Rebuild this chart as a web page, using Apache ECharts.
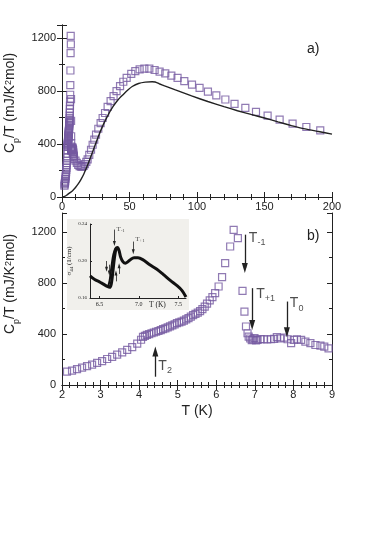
<!DOCTYPE html>
<html>
<head>
<meta charset="utf-8">
<script src="https://cdn.jsdelivr.net/npm/echarts@6/dist/echarts.min.js"></script>
<style>
  html, body { margin: 0; padding: 0; background: #fff; }
  #chart { width: 374px; height: 535px; }
</style>
</head>
<body>
<div id="chart"></div>
<script>
  // panel b) squares, 2 - 9 K (drawn again in panel a)
  const lowT = [2.13, 2.26, 2.39, 2.52, 2.65, 2.78, 2.91, 3.04, 3.17, 3.30, 3.43, 3.56, 3.69, 3.82, 3.95,
    4.05, 4.10, 4.15, 4.20, 4.26, 4.32, 4.38, 4.44, 4.50, 4.56, 4.62, 4.68, 4.74, 4.80, 4.86, 4.92, 4.98,
    5.04, 5.10, 5.16, 5.22, 5.28, 5.34, 5.40, 5.46, 5.52, 5.58, 5.64, 5.70,
    5.76, 5.83, 5.90, 5.97, 6.06, 6.15, 6.23, 6.36, 6.45, 6.56, 6.68, 6.73, 6.77, 6.81, 6.84,
    6.88, 6.92, 6.95, 6.99, 7.03, 7.07, 7.15, 7.23, 7.32, 7.42, 7.50, 7.57, 7.66, 7.76, 7.85, 7.94,
    8.01, 8.09, 8.20, 8.31, 8.44, 8.57, 8.70, 8.80, 8.91]
  const lowCp = [105, 113, 124, 136, 148, 160, 174, 188, 204, 220, 238, 256, 276, 298, 325,
    355, 378, 386, 393, 400, 406, 412, 418, 424, 431, 438, 445, 452, 460, 468, 476, 485,
    492, 498, 506, 515, 525, 537, 548, 558, 568, 580, 596, 615,
    638, 664, 690, 721, 773, 846, 956, 1087, 1218, 1153, 739, 576, 459, 406, 380,
    365, 352, 359, 368, 350, 354, 360, 359, 358, 359, 362, 375, 366, 372, 359, 328,
    354, 359, 354, 341, 328, 314, 309, 301, 288]

  // panel a) only: points outside 2 - 9 K
  const highT = [1.8, 1.95, 10, 11, 12, 13, 14, 15, 16, 17, 18, 19, 20.2, 21.5, 22.7, 23.9, 25.2, 26.9, 28.6,
    30.1, 31.9, 33.8, 36, 38.2, 40.4, 43, 45.4, 47.9, 51.3, 54.3, 57.5, 61, 64.7, 68.6, 72.3, 76.5,
    81, 85.6, 90.6, 96.3, 101.9, 108.1, 114.3, 121, 127.8, 135.8, 143.7, 152.3, 161.2, 170.8, 181, 191.3]
  const highCp = [85, 95, 275, 258, 243, 234, 229, 230, 236, 248, 265, 284, 319, 357, 395, 433, 471, 516, 559,
    597, 635, 681, 724, 762, 800, 838, 871, 901, 931, 952, 965, 970, 970, 960, 948, 934,
    918, 900, 876, 850, 825, 797, 768, 737, 704, 673, 643, 615, 585, 554, 529, 504]

  // panel a) solid curve
  const lineT = [0, 2, 4, 6, 8, 10, 12, 14, 16, 18, 20, 23, 27, 30.6, 34.3, 38, 41.7, 45.4, 49, 52, 56.7,
    61.7, 66.7, 69, 72, 76, 84, 96, 108, 120, 130, 140, 150, 160, 170, 180, 190, 200]
  const lineCp = [0, 4, 18, 33, 50, 72, 99, 132, 170, 218, 268, 350, 460, 547, 623, 686, 737, 775, 810, 835, 858,
    868, 871, 869, 856, 840, 809, 764, 722, 683, 652, 624, 597, 568, 540, 515, 495, 475]

  // inset: sigma44 (1/cm) against T (K)
  const insetT = [6.38, 6.44, 6.50, 6.55, 6.60, 6.63, 6.65, 6.67, 6.69, 6.71, 6.73, 6.75, 6.77, 6.80, 6.83,
    6.86, 6.90, 6.94, 6.99, 7.05, 7.14, 7.23, 7.31, 7.40, 7.49, 7.55, 7.60]
  const insetSigma = [0.184, 0.180, 0.1775, 0.175, 0.1725, 0.1715, 0.175, 0.188, 0.203, 0.213, 0.2145, 0.211,
    0.204, 0.199, 0.1975, 0.199, 0.202, 0.2035, 0.2035, 0.2015, 0.196, 0.191, 0.1855, 0.179, 0.173, 0.168, 0.161]
  const insetT2 = [6.61, 6.63, 6.65, 6.67, 6.69, 6.71]
  const insetSigma2 = [0.1725, 0.179, 0.192, 0.204, 0.211, 0.2145]

  // transition arrows in panel b)
  const arrowX = [6.74, 6.93, 7.83, 4.42]
  const arrowFrom = [1180, 760, 655, 65]
  const arrowTo = [918, 470, 415, 262]
  const arrowSub = ['-1', '+1', '0', '2']

  // arrows in the inset
  const insetArrowX = [6.69, 6.93, 6.59, 6.625, 6.71, 6.75]
  const insetArrowFrom = [0.234, 0.221, 0.200, 0.196, 0.178, 0.186]
  const insetArrowTo = [0.219, 0.210, 0.191, 0.187, 0.187, 0.195]
  const insetArrowSub = ['-1', '+1', '', '', '', '']

  const purple = '#7459a0'
  const ink = '#222'
  const sans = 'Liberation Sans, Arial, sans-serif'
  const serif = 'Liberation Serif, Times New Roman, serif'

  const zip = (xs, ys) => xs.map((x, i) => [x, ys[i]])

  const richName = {
    m: { fontSize: 14, lineHeight: 16, verticalAlign: 'top', fontFamily: sans, color: ink },
    sub: { fontSize: 9, lineHeight: 17, verticalAlign: 'bottom', fontFamily: sans, color: ink },
    sup: { fontSize: 9, lineHeight: 9, verticalAlign: 'top', fontFamily: sans, color: ink }
  }
  const yName = '{m|C}{sub|p}{m|/T (mJ/K}{sup|2}{m|mol)}'

  function xAx (grid, min, max, interval, minor, pos, labels) {
    return {
      gridIndex: grid, type: 'value', position: pos, min: min, max: max, interval: interval,
      axisLine: { lineStyle: { color: ink, width: 1 } },
      axisTick: { inside: true, length: 5, lineStyle: { color: ink } },
      minorTick: { show: true, splitNumber: minor, length: 3, lineStyle: { color: ink } },
      axisLabel: { show: labels, margin: 4, fontSize: 11, color: ink, fontFamily: sans, formatter: v => String(v) },
      splitLine: { show: false }
    }
  }
  function yAx (grid, max, pos, labels) {
    return {
      gridIndex: grid, type: 'value', position: pos, min: 0, max: max, interval: 400,
      axisLine: { lineStyle: { color: ink, width: 1 } },
      axisTick: { inside: true, length: 5, lineStyle: { color: ink } },
      minorTick: { show: true, splitNumber: 2, length: 3, lineStyle: { color: ink } },
      axisLabel: { show: labels, margin: 6, fontSize: 11, color: ink, fontFamily: sans, showMaxLabel: false,
        formatter: v => String(v) },
      splitLine: { show: false }
    }
  }

  const topY = yAx(0, 1300, 'left', true)
  topY.name = yName
  topY.nameLocation = 'middle'
  topY.nameGap = 32
  topY.nameTextStyle = { rich: richName, padding: [0, 0, 0, 16] }
  const botY = yAx(1, 1350, 'left', true)
  botY.name = yName
  botY.nameLocation = 'middle'
  botY.nameGap = 32
  botY.nameTextStyle = { rich: richName, padding: [0, 0, 0, 30] }
  const botX = xAx(1, 2, 9, 1, 5, 'bottom', true)
  botX.name = 'T (K)'
  botX.nameLocation = 'middle'
  botX.nameGap = 19
  botX.nameTextStyle = { fontSize: 14, color: ink, fontFamily: sans }

  const subRich = {
    t: { fontSize: 14, lineHeight: 14, verticalAlign: 'top', fontFamily: sans, color: ink },
    s: { fontSize: 9, lineHeight: 16, verticalAlign: 'bottom', fontFamily: sans, color: ink }
  }
  const insetRich = {
    t: { fontSize: 7, lineHeight: 7, verticalAlign: 'top', fontFamily: serif, color: ink },
    s: { fontSize: 5, lineHeight: 8, verticalAlign: 'bottom', fontFamily: serif, color: ink }
  }
  const labelOffsets = [[4, -4], [4, -1], [3, -5], [3, -18]]
  const insetLabelOffsets = [[2, -4], [2, -6], [0, 0], [0, 0], [0, 0], [0, 0]]

  function arrowLines (xs, from, to, head) {
    return xs.map((x, i) => [
      { coord: [x, from[i]], symbol: 'none' },
      { coord: [x, to[i]], symbol: 'triangle', symbolSize: head }
    ])
  }

  const insetY = {
    gridIndex: 2, type: 'value', min: 0.16, max: 0.24, interval: 0.04,
    name: '{a|σ}{b|44}{a| (1/cm)}', nameLocation: 'middle', nameGap: 15,
    nameTextStyle: {
      rich: {
        a: { fontSize: 7, lineHeight: 7, verticalAlign: 'top', fontFamily: serif, color: ink },
        b: { fontSize: 5, lineHeight: 9, verticalAlign: 'bottom', fontFamily: serif, color: ink }
      }
    },
    axisLine: { lineStyle: { color: ink, width: 1 } },
    axisTick: { inside: true, length: 2, lineStyle: { color: ink } },
    axisLabel: { margin: 3, fontSize: 5, color: ink, fontFamily: serif, formatter: v => v.toFixed(2) },
    splitLine: { show: false }
  }

  const option = {
    backgroundColor: '#fff',
    animation: false,
    grid: [
      { left: 62, top: 25, width: 270, height: 172, containLabel: false, outerBoundsMode: 'none' },
      { left: 62, top: 213, width: 270, height: 172, containLabel: false, outerBoundsMode: 'none' },
      { left: 90, top: 224, width: 96, height: 74, containLabel: false, outerBoundsMode: 'none' }
    ],
    graphic: [
      { type: 'rect', z: -1, silent: true, shape: { x: 67, y: 219, width: 122, height: 91 }, style: { fill: '#f1f0ec' } },
      { type: 'text', left: 307, top: 42, style: { text: 'a)', fontSize: 14, fill: ink, fontFamily: sans } },
      { type: 'text', left: 307, top: 229, style: { text: 'b)', fontSize: 14, fill: ink, fontFamily: sans } },
      { type: 'text', left: 149, top: 301, style: { text: 'T (K)', fontSize: 7.5, fill: ink, fontFamily: serif } }
    ],
    xAxis: [
      xAx(0, 0, 200, 50, 5, 'bottom', true),
      xAx(0, 0, 200, 50, 5, 'top', false),
      botX,
      xAx(1, 2, 9, 1, 5, 'top', false),
      {
        gridIndex: 2, type: 'value', min: 6.38, max: 7.6,
        axisLine: { lineStyle: { color: ink, width: 1 } },
        axisTick: { inside: true, length: 2, customValues: [6.5, 7.0, 7.5], lineStyle: { color: ink } },
        axisLabel: { margin: 3, fontSize: 6, color: ink, fontFamily: serif, customValues: [6.5, 7.0, 7.5],
          formatter: v => v.toFixed(1) },
        splitLine: { show: false }
      }
    ],
    yAxis: [
      topY,
      yAx(0, 1300, 'right', false),
      botY,
      yAx(1, 1350, 'right', false),
      insetY
    ],
    series: [
      {
        type: 'scatter', xAxisIndex: 0, yAxisIndex: 0, symbol: 'rect', symbolSize: 7,
        itemStyle: { color: 'rgba(0,0,0,0)', borderColor: purple, borderWidth: 1.2 },
        data: zip(highT.slice(0, 2), highCp.slice(0, 2)).concat(zip(lowT, lowCp), zip(highT.slice(2), highCp.slice(2)))
      },
      {
        type: 'line', xAxisIndex: 0, yAxisIndex: 0, showSymbol: false, smooth: 0.2,
        lineStyle: { color: ink, width: 1.4 }, data: zip(lineT, lineCp)
      },
      {
        type: 'scatter', xAxisIndex: 2, yAxisIndex: 2, symbol: 'rect', symbolSize: 7,
        itemStyle: { color: 'rgba(0,0,0,0)', borderColor: purple, borderWidth: 1.2 },
        data: zip(lowT, lowCp)
      },
      {
        type: 'scatter', xAxisIndex: 2, yAxisIndex: 2, symbolSize: 0, silent: true,
        data: arrowX.map((x, i) => ({
          value: [x, arrowFrom[i]],
          label: { show: true, position: labelOffsets[i], formatter: '{t|T}{s|' + arrowSub[i] + '}', rich: subRich }
        })),
        markLine: {
          silent: true, animation: false,
          lineStyle: { color: ink, width: 1.3, type: 'solid' },
          label: { show: false },
          data: arrowLines(arrowX, arrowFrom, arrowTo, [6, 10])
        }
      },
      {
        type: 'line', xAxisIndex: 4, yAxisIndex: 4, showSymbol: false, smooth: 0.3,
        lineStyle: { color: '#111', width: 3 }, data: zip(insetT, insetSigma)
      },
      {
        type: 'line', xAxisIndex: 4, yAxisIndex: 4, showSymbol: false, smooth: 0.3,
        lineStyle: { color: '#111', width: 2 }, data: zip(insetT2, insetSigma2)
      },
      {
        type: 'scatter', xAxisIndex: 4, yAxisIndex: 4, symbolSize: 0, silent: true,
        data: insetArrowX.map((x, i) => ({
          value: [x, insetArrowFrom[i]],
          label: { show: insetArrowSub[i] !== '', position: insetLabelOffsets[i], formatter: '{t|T}{s|' + insetArrowSub[i] + '}', rich: insetRich }
        })),
        markLine: {
          silent: true, animation: false,
          lineStyle: { color: ink, width: 0.8, type: 'solid' },
          label: { show: false },
          data: arrowLines(insetArrowX, insetArrowFrom, insetArrowTo, [3, 5])
        }
      }
    ]
  }

  const chart = echarts.init(document.getElementById('chart'), null, { renderer: 'canvas' })
  chart.setOption(option)
</script>
</body>
</html>
